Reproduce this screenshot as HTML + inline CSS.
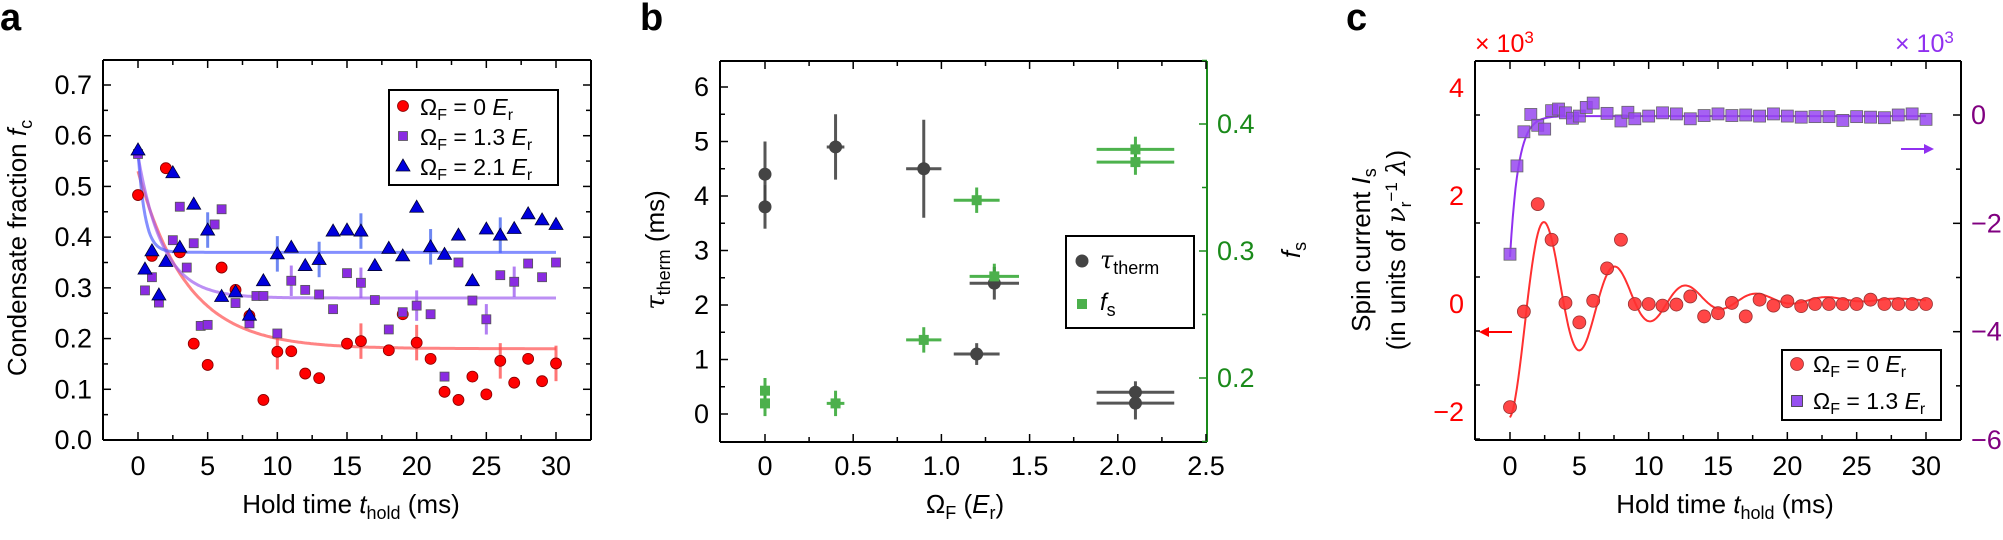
<!DOCTYPE html>
<html><head><meta charset="utf-8"><style>
html,body{margin:0;padding:0;background:#fff;}
svg{display:block;font-family:"Liberation Sans",sans-serif;}
</style></head><body>
<svg id="s" width="2003" height="540" xmlns="http://www.w3.org/2000/svg">
<text x="0" y="30" font-size="38" font-weight="bold">a</text>
<text x="640" y="30" font-size="38" font-weight="bold">b</text>
<text x="1346" y="30" font-size="38" font-weight="bold">c</text>
</svg>
<script>
const S=document.getElementById('s');const NS='http://www.w3.org/2000/svg';
function el(t,a,txt){const e=document.createElementNS(NS,t);for(const k in a)e.setAttribute(k,a[k]);if(txt!==undefined)e.innerHTML=txt;S.appendChild(e);return e;}
function lin(x0,x1,p0,p1){return v=>p0+(v-x0)*(p1-p0)/(x1-x0);}
function ticks(box,sx,sy,xm,xn,xr,ym,yn,yr,opt){
 opt=opt||{};
 const [L,R,T,B]=box;
 for(let v=xr[0];v<=xr[1]+1e-9;v+=xn){const X=sx(v);const maj=Math.abs(v/xm-Math.round(v/xm))<1e-6;const l=maj?8:5;
  el('line',{x1:X,y1:B,x2:X,y2:B-l,stroke:'#000','stroke-width':1.5});el('line',{x1:X,y1:T,x2:X,y2:T+l,stroke:'#000','stroke-width':1.5});}
 for(let v=yr[0];v<=yr[1]+1e-9;v+=yn){const Y=sy(v);const maj=Math.abs(v/ym-Math.round(v/ym))<1e-6;const l=maj?8:5;
  el('line',{x1:L,y1:Y,x2:L+l,y2:Y,stroke:'#000','stroke-width':1.5});if(!opt.noRight)el('line',{x1:R,y1:Y,x2:R-l,y2:Y,stroke:'#000','stroke-width':1.5});}
}
function frame(box,rc){const [L,R,T,B]=box;
 el('line',{x1:L,y1:T,x2:R,y2:T,stroke:'#000','stroke-width':2});el('line',{x1:L,y1:B,x2:R,y2:B,stroke:'#000','stroke-width':2});
 el('line',{x1:L,y1:T,x2:L,y2:B,stroke:'#000','stroke-width':2});el('line',{x1:R,y1:T,x2:R,y2:B,stroke:rc||'#000','stroke-width':2});}
function circ(x,y,f,r){el('circle',{cx:x,cy:y,r:r||5.5,fill:f,stroke:'#800','stroke-width':0.8});}
function sq(x,y,f,s,st){s=s||9;el('rect',{x:x-s/2,y:y-s/2,width:s,height:s,fill:f,stroke:st||'#555','stroke-width':0.8});}
function tri(x,y,f){el('polygon',{points:`${x},${y-7} ${x-7},${y+5} ${x+7},${y+5}`,fill:f,stroke:'#003','stroke-width':0.8});}
function curve(f,sx,sy,a,b,col,w,op){let d='';for(let i=0;i<=300;i++){const t=a+(b-a)*i/300;d+=(i?'L':'M')+sx(t).toFixed(1)+','+sy(f(t)).toFixed(1);}el('path',{d:d,fill:'none',stroke:col,'stroke-width':w||2.5,opacity:op||1});}
function eb(x1,y1,x2,y2,c,w,op){el('line',{x1,y1,x2,y2,stroke:c,'stroke-width':w||3,opacity:op||0.8});}
const M='−';
/* ---------- Panel a ---------- */
{const box=[103,591,60,440];const sx=lin(0,30,138,556),sy=lin(0,0.7,440,85);
 frame(box);ticks(box,sx,sy,5,2.5,[0,30],0.1,0.05,[0,0.7]);
 for(let v=0;v<=7;v++)el('text',{x:92,y:sy(v/10)+9,'font-size':27,'text-anchor':'end'},(v/10).toFixed(1));
 for(let v=0;v<=30;v+=5)el('text',{x:sx(v),y:475,'font-size':27,'text-anchor':'middle'},v);
 el('text',{x:351,y:513,'font-size':26,'text-anchor':'middle'},'Hold time <tspan font-style="italic">t</tspan><tspan font-size="18" dy="6">hold</tspan><tspan dy="-6"> (ms)</tspan>');
 el('text',{x:0,y:0,'font-size':26,'text-anchor':'middle',transform:'translate(26,248) rotate(-90)'},'Condensate fraction <tspan font-style="italic">f</tspan><tspan font-size="18" dy="6">c</tspan>');
 const R=[[0,.483],[1,.363],[2,.536],[3,.37],[4,.19],[5,.148],[6,.34],[7,.296],[8,.245],[9,.079],[10,.174],[11,.175],[12,.131],[13,.122],[15,.19],[16,.195],[18,.177],[19,.248],[20,.192],[21,.16],[22,.095],[23,.079],[24,.125],[25,.09],[26,.156],[27,.113],[28,.16],[29,.116],[30,.151]];
 const P=[[0,.564],[.5,.295],[1,.321],[1.5,.271],[2.5,.394],[3,.46],[3.5,.34],[4,.388],[4.5,.225],[5,.227],[5.5,.425],[6,.455],[7,.27],[8,.23],[8.5,.284],[9,.284],[10,.21],[11,.314],[12,.296],[13,.287],[14,.258],[15,.329],[16,.31],[17,.276],[18,.218],[19,.252],[20,.265],[21,.248],[22,.125],[23,.35],[24,.275],[25,.238],[26,.325],[27,.312],[28,.348],[29,.321],[30,.35]];
 const Bl=[[0,.572],[.5,.337],[1,.373],[1.5,.286],[2,.352],[2.5,.527],[3,.38],[4,.465],[5,.414],[6,.283],[7,.292],[8,.246],[9,.314],[10,.367],[11,.38],[12,.344],[13,.356],[14,.412],[15,.414],[16,.412],[17,.344],[18,.378],[19,.363],[20,.459],[21,.381],[22,.366],[23,.404],[24,.314],[25,.416],[26,.404],[27,.417],[28,.446],[29,.434],[30,.425]];
 [[10,.174],[16,.195],[20,.192],[26,.156],[30,.151]].forEach(p=>eb(sx(p[0]),sy(p[1]-.035),sx(p[0]),sy(p[1]+.035),'#f55'));
 [[11,.314],[16,.31],[20,.265],[25,.238],[27,.312]].forEach(p=>eb(sx(p[0]),sy(p[1]-.03),sx(p[0]),sy(p[1]+.03),'#a060f0'));
 [[5,.414],[10,.367],[13,.356],[16,.412],[21,.381],[26,.404]].forEach(p=>eb(sx(p[0]),sy(p[1]-.035),sx(p[0]),sy(p[1]+.035),'#4a6af0'));
 curve(t=>0.18+0.35*Math.exp(-t/3.5),sx,sy,0,30,'#ff5050',3,0.7);
 curve(t=>0.28+0.28*Math.exp(-t/1.8),sx,sy,0,30,'#a060f0',3,0.7);
 curve(t=>0.37+0.2*Math.exp(-t/0.5),sx,sy,0,30,'#5060ff',3,0.7);
 R.forEach(p=>circ(sx(p[0]),sy(p[1]),'#f00'));
 P.forEach(p=>sq(sx(p[0]),sy(p[1]),'#8a2be2'));
 Bl.forEach(p=>tri(sx(p[0]),sy(p[1]),'#0000dd'));
 el('rect',{x:389,y:90,width:169,height:95,fill:'#fff',stroke:'#000','stroke-width':2});
 circ(403,106,'#f00');sq(403,136,'#8a2be2');tri(403,166,'#0000dd');
 const lt=(y,v)=>el('text',{x:420,y:y,'font-size':23},'Ω<tspan font-size="16" dy="5">F</tspan><tspan dy="-5"> = '+v+' </tspan><tspan font-style="italic">E</tspan><tspan font-size="16" dy="5">r</tspan>');
 lt(115,'0');lt(145,'1.3');lt(175,'2.1');
}
/* ---------- Panel b ---------- */
{const box=[720,1207,61,442];const sx=lin(0,2.5,765,1206),sy=lin(0,6,414,87),sr=lin(0.2,0.4,378,124);
 frame(box,'#1a8a1a');ticks(box,sx,sy,0.5,0.25,[0,2.5],1,0.5,[0,6],{noRight:true});
 for(let v=0.15;v<=0.45+1e-9;v+=0.05){const Y=sr(v);const maj=Math.abs(v*10-Math.round(v*10))<1e-6;el('line',{x1:1207,y1:Y,x2:1207-(maj?8:5),y2:Y,stroke:'#1a8a1a','stroke-width':1.5});}
 for(let v=0;v<=6;v++)el('text',{x:709,y:sy(v)+9,'font-size':27,'text-anchor':'end'},v);
 ['0','0.5','1.0','1.5','2.0','2.5'].forEach((t,i)=>el('text',{x:sx(i*0.5),y:475,'font-size':27,'text-anchor':'middle'},t));
 [0.2,0.3,0.4].forEach(v=>el('text',{x:1217,y:sr(v)+9,'font-size':27,fill:'#1a8a1a'},v.toFixed(1)));
 el('text',{x:965,y:513,'font-size':26,'text-anchor':'middle'},'Ω<tspan font-size="18" dy="6">F</tspan><tspan dy="-6"> (</tspan><tspan font-style="italic">E</tspan><tspan font-size="18" dy="6">r</tspan><tspan dy="-6">)</tspan>');
 el('text',{x:0,y:0,'font-size':26,'text-anchor':'middle',transform:'translate(664,250) rotate(-90)'},'<tspan font-family="DejaVu Serif" font-style="italic">τ</tspan><tspan font-size="18" dy="6">therm</tspan><tspan dy="-6"> (ms)</tspan>');
 el('text',{x:0,y:0,'font-size':26,'text-anchor':'middle',transform:'translate(1300,250) rotate(-90)'},'<tspan font-style="italic">f</tspan><tspan font-size="18" dy="6">s</tspan>');
 const K=[[0,4.4,0,.6],[0,3.8,0,.4],[.4,4.9,.05,.6],[.9,4.5,.1,.9],[1.3,2.4,.14,.3],[1.2,1.1,.13,.2],[2.1,.4,.22,.2],[2.1,.2,.22,.3]];
 const G=[[2.1,.380,.22,.01],[2.1,.370,.22,.01],[1.2,.340,.13,.01],[1.3,.280,.14,.01],[.9,.230,.1,.01],[0,.190,0,.01],[0,.180,0,.01],[.4,.180,.05,.01]];
 K.forEach(p=>{eb(sx(p[0]-p[2]),sy(p[1]),sx(p[0]+p[2]),sy(p[1]),'#444',3,.9);eb(sx(p[0]),sy(p[1]-p[3]),sx(p[0]),sy(p[1]+p[3]),'#444',3,.9);});
 G.forEach(p=>{eb(sx(p[0]-p[2]),sr(p[1]),sx(p[0]+p[2]),sr(p[1]),'#3aaa3a',3,.9);eb(sx(p[0]),sr(p[1]-p[3]),sx(p[0]),sr(p[1]+p[3]),'#3aaa3a',3,.9);});
 K.forEach(p=>el('circle',{cx:sx(p[0]),cy:sy(p[1]),r:6.5,fill:'#444'}));
 G.forEach(p=>el('rect',{x:sx(p[0])-5,y:sr(p[1])-5,width:10,height:10,fill:'#4cb04c'}));
 el('rect',{x:1066,y:236,width:128,height:92,fill:'#fff',stroke:'#000','stroke-width':2});
 el('circle',{cx:1082,cy:261,r:6.5,fill:'#444'});el('rect',{x:1077,y:299,width:10,height:10,fill:'#4cb04c'});
 el('text',{x:1100,y:268,'font-size':24},'<tspan font-family="DejaVu Serif" font-style="italic">τ</tspan><tspan font-size="18" dy="6">therm</tspan>');
 el('text',{x:1100,y:310,'font-size':24},'<tspan font-style="italic">f</tspan><tspan font-size="18" dy="6">s</tspan>');
}
/* ---------- Panel c ---------- */
{const box=[1475,1961,61,440];const sx=lin(0,30,1510,1926),sy=lin(0,4,304,88),sr=lin(0,-6,115,440);
 frame(box);ticks(box,sx,sy,5,2.5,[0,30],2,1,[-2.5,4.5],{noRight:true});
 for(let v=-6;v<=1;v++){const Y=sr(v);const maj=v%2==0;el('line',{x1:1961,y1:Y,x2:1961-(maj?8:5),y2:Y,stroke:'#000','stroke-width':1.5});}
 [-2,0,2,4].forEach(v=>el('text',{x:1464,y:sy(v)+9,'font-size':27,'text-anchor':'end',fill:'#f00'},v<0?M+(-v):v));
 [0,-2,-4,-6].forEach(v=>el('text',{x:1971,y:sr(v)+9,'font-size':27,fill:'#800080'},v<0?M+(-v):v));
 for(let v=0;v<=30;v+=5)el('text',{x:sx(v),y:475,'font-size':27,'text-anchor':'middle'},v);
 el('text',{x:1475,y:52,'font-size':25,fill:'#f00'},'× 10<tspan font-size="17" dy="-9">3</tspan>');
 el('text',{x:1895,y:52,'font-size':25,fill:'#9030f0'},'× 10<tspan font-size="17" dy="-9">3</tspan>');
 el('text',{x:1725,y:513,'font-size':26,'text-anchor':'middle'},'Hold time <tspan font-style="italic">t</tspan><tspan font-size="18" dy="6">hold</tspan><tspan dy="-6"> (ms)</tspan>');
 el('text',{x:0,y:0,'font-size':26,'text-anchor':'middle',transform:'translate(1370,250) rotate(-90)'},'Spin current <tspan font-style="italic">I</tspan><tspan font-size="18" dy="6">s</tspan>');
 el('text',{x:0,y:0,'font-size':26,'text-anchor':'middle',transform:'translate(1405,250) rotate(-90)'},'(in units of <tspan font-family="DejaVu Serif" font-style="italic">ν</tspan><tspan font-size="17" dy="6">r</tspan><tspan font-size="17" dy="-14">−1</tspan><tspan dy="8"> </tspan><tspan font-family="DejaVu Serif" font-style="italic">λ</tspan>)');
 el('line',{x1:1512,y1:332,x2:1485,y2:332,stroke:'#f00','stroke-width':2});el('polygon',{points:'1479,332 1489,327 1489,337',fill:'#f00'});
 el('line',{x1:1901,y1:149,x2:1927,y2:149,stroke:'#9030f0','stroke-width':2});el('polygon',{points:'1934,149 1924,144 1924,154',fill:'#9030f0'});
 curve(t=>0.08-2.18*Math.exp(-t/6)*Math.cos(2*Math.PI*t/5.1),sx,sy,0,30,'#ff3030',2,1);
 curve(t=>-0.02-2.6*Math.exp(-t/0.6),sx,sr,0,30,'#9030f0',2,1);
 const Rc=[[0,-1.91],[1,-.14],[2,1.85],[3,1.19],[4,.02],[5,-.34],[6,.06],[7,.66],[8,1.19],[9,0],[10,0],[11,-.03],[12,-.01],[13,.14],[14,-.23],[15,-.17],[16,.02],[17,-.23],[18,.08],[19,-.03],[20,.05],[21,-.04],[22,0],[23,0],[24,0],[25,0],[26,.08],[27,0],[28,0],[29,0],[30,0]];
 const Pc=[[0,-2.57],[.5,-.94],[1,-.31],[1.5,.01],[2,-.19],[2.5,-.26],[3,.08],[3.5,.11],[4,.04],[4.5,-.06],[5,-.02],[5.5,.14],[6,.22],[7,.03],[8,-.11],[8.5,.05],[9,-.07],[10,-.02],[11,.04],[12,.02],[13,-.07],[14,-.01],[15,.02],[16,-.01],[17,0],[18,-.02],[19,.02],[20,-.02],[21,-.04],[22,-.03],[23,-.03],[24,-.1],[25,-.03],[26,-.04],[27,-.05],[28,0],[29,.02],[30,-.08]];
 Pc.forEach(p=>sq(sx(p[0]),sr(p[1]),'rgba(150,70,240,0.85)',12,'#666'));
 Rc.forEach(p=>el('circle',{cx:sx(p[0]),cy:sy(p[1]),r:6.5,fill:'rgba(255,50,50,0.9)',stroke:'#933','stroke-width':0.8}));
 el('rect',{x:1782,y:350,width:159,height:70,fill:'#fff',stroke:'#000','stroke-width':2});
 el('circle',{cx:1797,cy:364,r:6.5,fill:'#f44',stroke:'#933','stroke-width':0.8});sq(1797,401,'#9650f0',11,'#333');
 el('text',{x:1813,y:372,'font-size':23},'Ω<tspan font-size="16" dy="5">F</tspan><tspan dy="-5"> = 0 </tspan><tspan font-style="italic">E</tspan><tspan font-size="16" dy="5">r</tspan>');
 el('text',{x:1813,y:409,'font-size':23},'Ω<tspan font-size="16" dy="5">F</tspan><tspan dy="-5"> = 1.3 </tspan><tspan font-style="italic">E</tspan><tspan font-size="16" dy="5">r</tspan>');
}
</script>
</body></html>
